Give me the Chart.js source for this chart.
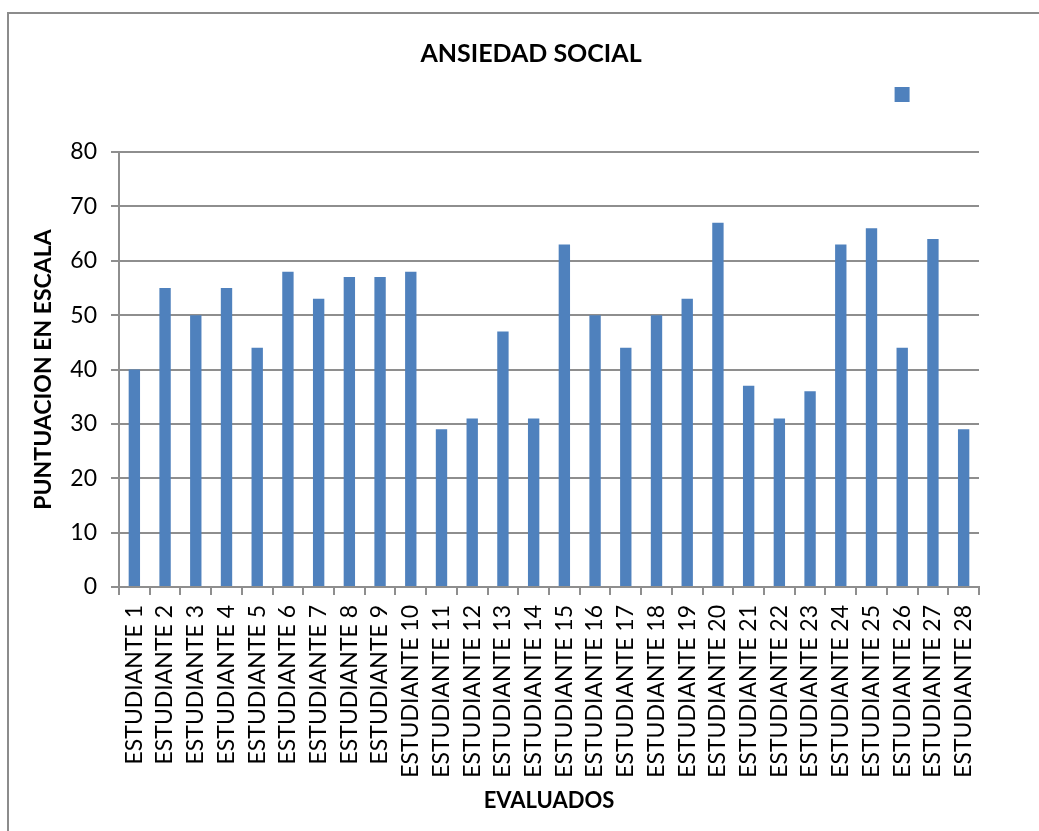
<!DOCTYPE html>
<html>
<head>
<meta charset="utf-8">
<script src="https://cdn.jsdelivr.net/npm/chart.js@4/dist/chart.umd.min.js"></script>
<style>
  html, body { margin: 0; padding: 0; background: #ffffff; overflow: hidden; width: 1039px; height: 831px; }
  #frame { position: absolute; left: 7px; top: 12px; width: 1100px; height: 900px; border: 2px solid #8c8c8c; box-sizing: border-box; }
  #c { position: absolute; left: 8px; top: 0px; }
</style>
</head>
<body>
<div id="frame"></div>
<canvas id="c" width="1046" height="831"></canvas>
<script>
const chartTitle = 'ANSIEDAD SOCIAL';
const yAxisTitle = 'PUNTUACION EN ESCALA';
const xAxisTitle = 'EVALUADOS';
const categories = [
  'ESTUDIANTE 1','ESTUDIANTE 2','ESTUDIANTE 3','ESTUDIANTE 4','ESTUDIANTE 5','ESTUDIANTE 6','ESTUDIANTE 7',
  'ESTUDIANTE 8','ESTUDIANTE 9','ESTUDIANTE 10','ESTUDIANTE 11','ESTUDIANTE 12','ESTUDIANTE 13','ESTUDIANTE 14',
  'ESTUDIANTE 15','ESTUDIANTE 16','ESTUDIANTE 17','ESTUDIANTE 18','ESTUDIANTE 19','ESTUDIANTE 20','ESTUDIANTE 21',
  'ESTUDIANTE 22','ESTUDIANTE 23','ESTUDIANTE 24','ESTUDIANTE 25','ESTUDIANTE 26','ESTUDIANTE 27','ESTUDIANTE 28'
];
const scores = [40, 55, 50, 55, 44, 58, 53, 57, 57, 58, 29, 31, 47, 31, 63, 50, 44, 50, 53, 67, 37, 31, 36, 63, 66, 44, 64, 29];
const yTicks = { min: 0, max: 80, step: 10 };

const gridColor = '#8e8e8e';
const fontFamily = 'Lato, "Open Sans", sans-serif';

new Chart(document.getElementById('c'), {
  type: 'bar',
  data: {
    labels: categories,
    datasets: [{
      label: '\u00a0\u00a0\u00a0\u00a0\u00a0\u00a0\u00a0',
      data: scores,
      backgroundColor: '#4f81bd',
      borderWidth: 0,
      barPercentage: 0.37,
      categoryPercentage: 1.0,
      yAxisID: 'y'
    }]
  },
  options: {
    responsive: false,
    animation: false,
    devicePixelRatio: 1,
    layout: { padding: { left: 0, right: 0, top: 0, bottom: 0 } },
    plugins: {
      title: {
        display: true,
        text: chartTitle,
        color: '#000000',
        font: { family: fontFamily, size: 25, weight: 'bold' },
        padding: { top: 39, bottom: 5 }
      },
      legend: {
        display: true,
        position: 'top',
        align: 'end',
        fullSize: false,
        labels: {
          boxWidth: 15,
          boxHeight: 15,
          padding: 13,
          font: { family: '"Liberation Mono", monospace', size: 12 },
          color: '#000000'
        }
      },
      subtitle: {
        display: true,
        text: '',
        weight: 500,
        font: { size: 10 },
        padding: { top: 0, bottom: 28 }
      },
      tooltip: { enabled: false }
    },
    scales: {
      x: {
        offset: true,
        grid: {
          offset: true,
          drawOnChartArea: false,
          drawTicks: true,
          tickLength: 8,
          color: gridColor,
          lineWidth: 2
        },
        border: { display: true, color: gridColor, width: 2 },
        ticks: {
          autoSkip: false,
          maxRotation: 90,
          minRotation: 90,
          padding: 10,
          color: '#000000',
          font: { family: fontFamily, size: 23 }
        },
        title: {
          display: true,
          text: xAxisTitle,
          color: '#000000',
          font: { family: fontFamily, size: 22, weight: 'bold' },
          padding: { top: 0, bottom: 17 }
        },
        afterFit: (scale) => { scale.height = 244; }
      },
      y: {
        position: 'left',
        min: yTicks.min,
        max: yTicks.max,
        grid: {
          color: gridColor,
          lineWidth: 2,
          tickLength: 8
        },
        border: { display: true, color: gridColor, width: 2 },
        ticks: {
          stepSize: yTicks.step,
          padding: 14,
          color: '#000000',
          font: { family: fontFamily, size: 23 }
        },
        title: {
          display: true,
          text: yAxisTitle,
          color: '#000000',
          font: { family: fontFamily, size: 23, weight: 'bold' },
          padding: { top: 22, bottom: 0 }
        },
        afterFit: (scale) => { scale.width = 111; }
      },
      yRight: {
        position: 'right',
        display: true,
        min: yTicks.min,
        max: yTicks.max,
        grid: { display: false, drawTicks: false },
        border: { display: false },
        ticks: { display: false },
        afterFit: (scale) => { scale.width = 75; }
      }
    }
  }
});
</script>
</body>
</html>
